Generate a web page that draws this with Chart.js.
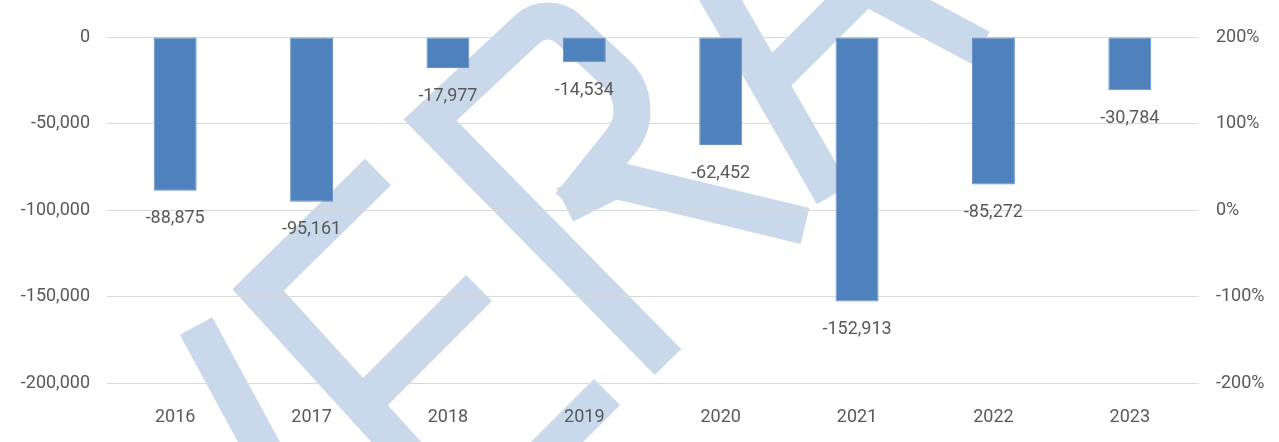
<!DOCTYPE html>
<html>
<head>
<meta charset="utf-8">
<script src="https://cdn.jsdelivr.net/npm/chart.js@4"></script>
<style>
html,body{margin:0;padding:0;background:#fff;}
#wrap{width:1279px;height:442px;}
</style>
</head>
<body>
<div id="wrap"><canvas id="c" width="1279" height="442"></canvas></div>
<script>
const years = ['2016', '2017', '2018', '2019', '2020', '2021', '2022', '2023'];
const values = [-88875, -95161, -17977, -14534, -62452, -152913, -85272, -30784];
const leftTickValues = [0, -50000, -100000, -150000, -200000];
const rightTickLabels = ['200%', '100%', '0%', '-100%', '-200%'];

const FONT = "Roboto, 'Open Sans', sans-serif";
const FSIZE = 18;
const TXT = '#595959';

function drawWatermark(ctx) {
  ctx.save();
  ctx.strokeStyle = 'rgb(201,216,234)';
  ctx.lineWidth = 37;
  ctx.lineCap = 'butt';
  ctx.lineJoin = 'miter';
  const poly = pts => {
    ctx.beginPath();
    ctx.moveTo(pts[0][0], pts[0][1]);
    for (let i = 1; i < pts.length; i++) ctx.lineTo(pts[i][0], pts[i][1]);
    ctx.stroke();
  };
  poly([[196, 326], [272, 466]]);
  poly([[378, 172], [258, 290], [420, 468]]);
  poly([[479, 288], [362, 405]]);
  ctx.beginPath();
  ctx.moveTo(668, 362);
  ctx.lineTo(430, 120);
  ctx.arcTo(548, 10, 650, 105, 30);
  ctx.arcTo(650, 105, 570, 205, 50);
  ctx.lineTo(570, 205);
  ctx.stroke();
  ctx.lineJoin = 'round';
  poly([[565, 205], [615, 180], [805, 226]]);
  ctx.lineJoin = 'miter';
  poly([[607, 392], [535, 464]]);
  poly([[709, -20], [833, 195]]);
  poly([[768, 83], [865, -14], [981, 48]]);
  ctx.restore();
}

const bgPlugin = {
  id: 'bg',
  beforeDraw(chart) {
    const ctx = chart.ctx;
    ctx.save();
    ctx.fillStyle = '#fff';
    ctx.fillRect(0, 0, chart.width, chart.height);
    ctx.restore();
    drawWatermark(ctx);
  }
};

const labelPlugin = {
  id: 'vlabels',
  afterDatasetsDraw(chart) {
    const ctx = chart.ctx;
    const meta = chart.getDatasetMeta(0);
    ctx.save();
    ctx.font = FSIZE + 'px ' + FONT;
    ctx.fillStyle = TXT;
    ctx.textAlign = 'center';
    ctx.textBaseline = 'middle';
    meta.data.forEach((bar, i) => {
      const v = chart.data.datasets[0].data[i];
      ctx.fillText(v.toLocaleString('en-US'), bar.x, bar.y + 28);
    });
    ctx.restore();
  }
};

new Chart(document.getElementById('c'), {
  type: 'bar',
  data: {
    labels: years,
    datasets: [{
      data: values,
      backgroundColor: '#4F81BD',
      borderColor: '#6590C8',
      borderWidth: 1,
      borderSkipped: false,
      barPercentage: 0.315,
      categoryPercentage: 1,
      yAxisID: 'y'
    }]
  },
  options: {
    responsive: false,
    devicePixelRatio: 1,
    animation: false,
    layout: { padding: { top: 37, left: 0, right: 0, bottom: 0 } },
    plugins: { legend: { display: false }, tooltip: { enabled: false } },
    scales: {
      x: {
        grid: { display: false },
        border: { display: false },
        ticks: { color: TXT, font: { family: FONT, size: FSIZE }, padding: 16 },
        afterFit(s) { s.height = 59; }
      },
      y: {
        position: 'left',
        min: -200000, max: 0,
        afterBuildTicks(s) { s.ticks = leftTickValues.map(v => ({ value: v })); },
        grid: { color: '#D9D9D9', lineWidth: 1, drawTicks: false },
        border: { display: false },
        ticks: {
          color: TXT, font: { family: FONT, size: FSIZE }, padding: 17,
          callback: v => v.toLocaleString('en-US')
        },
        afterFit(s) { s.width = 107; }
      },
      y2: {
        position: 'right',
        min: -2, max: 2,
        afterBuildTicks(s) { s.ticks = [2, 1, 0, -1, -2].map(v => ({ value: v })); },
        grid: { drawOnChartArea: false, drawTicks: false },
        border: { display: false },
        ticks: {
          color: TXT, font: { family: FONT, size: FSIZE }, padding: 18,
          callback: (v, i) => rightTickLabels[i]
        },
        afterFit(s) { s.width = 81; }
      }
    }
  },
  plugins: [bgPlugin, labelPlugin]
});
</script>
</body>
</html>
